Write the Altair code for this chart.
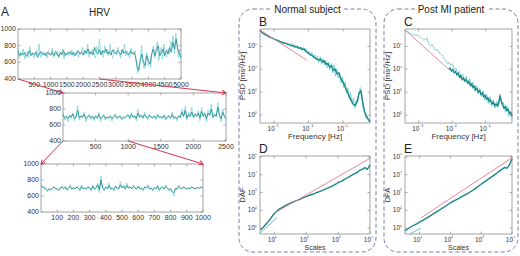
import math
import numpy as np
import pandas as pd
import altair as alt

# ---------------- data ----------------
# A: RR intervals [ms]
rr5000_light = [780, 650, 720, 680, 760, 640, 700, 730, 660, 790, 690, 720, 650, 710, 740, 680, 820, 660, 700, 730, 680, 720, 650, 740, 700, 680,
                770, 660, 710, 690, 740, 650, 720, 700, 760, 640, 710, 690, 730, 680, 700, 750, 670, 720, 690, 740, 660, 720, 700, 780,
                680, 740, 700, 820, 660, 730, 690, 760, 700, 650, 790, 720, 880, 690, 740, 660, 800, 710, 750, 680, 820, 700, 650, 760, 720,
                690, 780, 710, 650, 760, 700, 820, 680, 740, 700, 650, 770, 720, 690, 740, 600, 470, 560, 640, 800, 590, 520, 660, 720, 560,
                600, 540, 720, 800, 650, 760, 850, 620, 700, 780, 640, 820, 700, 660, 760, 700, 850, 780, 920, 700, 950, 820, 660, 760, 640]
rr5000_dark = [730, 680, 710, 690, 720, 670, 700, 740, 680, 710, 690, 720, 660, 700, 730, 690, 710, 680, 720, 700,
               690, 720, 680, 730, 700, 670, 720, 690, 740, 680, 710, 700, 730, 690, 720, 680, 710, 740, 700, 720,
               690, 740, 710, 760, 700, 730, 690, 780, 720, 700, 750, 690, 740, 720, 760, 700, 730, 690, 750, 720,
               700, 740, 720, 690, 750, 710, 730, 700, 690, 740, 700, 720, 680, 560, 500, 620, 700, 600, 560, 680,
               620, 580, 700, 760, 680, 740, 800, 680, 720, 760, 680, 740, 700, 780, 720, 840, 760, 880, 760, 700, 660]
rr2500_light = [760, 660, 700, 640, 720, 680, 750, 650, 700, 840, 660, 720, 690, 760, 640, 700, 730, 670, 710, 650,
                720, 680, 760, 640, 700, 730, 660, 700, 680, 720, 650, 700, 740, 670, 690, 720, 660, 700, 680, 710,
                740, 670, 760, 690, 720, 650, 800, 690, 730, 680, 760, 700, 660, 740, 700, 680, 720, 660, 740, 690,
                710, 680, 730, 660, 700, 720, 680, 760, 670, 700, 650, 720, 690, 800, 700, 840, 660, 760, 700, 820,
                680, 750, 700, 780, 650, 820, 700, 760, 640, 790, 720, 860, 680, 740, 700, 880, 720, 640, 800, 700, 650]
rr2500_dark = [730, 690, 710, 680, 720, 700, 740, 680, 700, 780, 690, 710, 700, 730, 680, 700, 720, 690, 710, 680,
               710, 690, 730, 680, 700, 720, 680, 700, 690, 710, 680, 700, 720, 690, 700, 710, 680, 700, 690, 710,
               720, 690, 730, 700, 710, 680, 750, 700, 720, 690, 730, 700, 690, 720, 700, 690, 710, 690, 720, 700,
               700, 690, 720, 680, 700, 710, 690, 730, 690, 700, 680, 710, 700, 760, 710, 780, 690, 730, 710, 760,
               700, 730, 710, 750, 690, 770, 710, 740, 680, 750, 720, 800, 700, 730, 710, 820, 720, 680, 760, 710, 690]
rr1000_light = [760, 700, 720, 680, 650, 690, 670, 700, 720, 690,
                680, 660, 700, 730, 690, 720, 670, 700, 740, 680,
                710, 690, 720, 700, 660, 740, 690, 700, 680, 720,
                700, 660, 740, 680, 700, 760, 640, 850, 700, 660,
                720, 690, 760, 680, 700, 660, 730, 700, 690, 780,
                700, 740, 680, 760, 700, 720, 690, 740, 700, 680,
                730, 690, 700, 660, 720, 700, 740, 680, 700, 660,
                710, 690, 740, 660, 700, 720, 680, 740, 700, 660,
                690, 640, 600, 700, 680, 740, 700, 690, 720, 700,
                680, 700, 690, 720, 700, 680, 700, 710, 690, 720, 700]
rr1000_dark = [730, 710, 700, 690, 670, 690, 680, 700, 710, 690,
               690, 680, 700, 710, 690, 710, 680, 700, 720, 690,
               700, 690, 710, 700, 680, 720, 690, 700, 690, 710,
               700, 680, 720, 690, 700, 740, 680, 800, 700, 680,
               710, 690, 730, 690, 700, 680, 720, 700, 690, 740,
               700, 720, 690, 730, 700, 710, 690, 720, 700, 690,
               720, 690, 700, 680, 710, 700, 720, 690, 700, 680,
               700, 690, 720, 680, 700, 710, 690, 720, 700, 680,
               690, 660, 640, 690, 690, 720, 700, 690, 710, 700,
               690, 700, 690, 710, 700, 690, 700, 705, 695, 710, 700]

# B / C: log10 PSD over log10 frequency
psd_normal_dark = [5.70, 5.62, 5.56, 5.50, 5.47, 5.42, 5.38, 5.35, 5.31, 5.28, 5.25, 5.21, 5.18, 5.15, 5.13, 5.10,
                   5.07, 5.04, 5.03, 4.97, 4.99, 4.92, 4.94, 4.86, 4.89, 4.78, 4.72, 4.66, 4.62, 4.57, 4.50, 4.46,
                   4.40, 4.44, 4.32, 4.36, 4.22, 4.26, 4.10, 4.15, 3.95, 4.00, 3.80, 3.84, 3.60, 3.48, 3.30, 3.12,
                   2.95, 2.75, 2.60, 2.45, 2.42, 2.60, 2.95, 3.05, 2.55, 2.15, 1.95, 1.82, 1.70]
psd_normal_dark_f = (-3.4, -0.22)
psd_normal_light = [5.16, 5.14, 5.13, 5.10, 5.12, 5.08, 5.15, 5.02, 5.06, 4.98, 5.02, 4.92, 4.98, 4.88, 4.95, 4.84,
                    4.90, 4.70, 4.80, 4.60, 4.74, 4.50, 4.66, 4.40, 4.58, 4.30, 4.55, 4.22, 4.48, 4.20, 4.40, 4.05,
                    4.30, 3.98, 4.25, 3.85, 4.20, 3.70, 4.02, 3.62, 3.85, 3.40, 3.65, 3.20, 3.45, 2.95, 3.20, 2.70,
                    2.95, 2.50, 2.75, 2.30, 2.65, 2.55, 3.00, 3.20, 2.90, 2.30, 2.15, 1.85, 1.80, 1.75, 1.68]
psd_normal_light_f = (-2.7, -0.22)
psd_normal_fit_f = [-3.4, -2.05]
psd_normal_fit = [5.72, 4.40]

psd_mi_light = [5.74, 5.68, 5.62, 5.58, 5.54, 5.52, 5.50, 5.48, 5.46, 5.40, 5.34, 5.28, 5.30, 5.38, 5.10, 5.02,
                5.08, 4.95, 4.84, 4.88, 4.72, 4.68, 4.62, 4.48, 4.40, 4.22, 4.30, 4.16, 4.25, 3.95, 4.05, 3.78,
                3.92, 3.62, 3.80, 3.48, 3.70, 3.35, 3.60, 3.22, 3.45, 3.05, 3.30, 2.92, 3.18, 2.80, 3.05, 2.65,
                2.92, 2.50, 2.80, 2.38, 2.68, 2.30, 2.60, 2.35, 2.90, 2.45, 2.55, 2.15, 2.40, 1.95, 2.15, 1.80]
psd_mi_light_f = (-3.4, -0.22)
psd_mi_dark = [4.00, 4.05, 3.92, 3.98, 3.85, 3.90, 3.76, 3.82, 3.66, 3.72, 3.55, 3.62, 3.48, 3.55, 3.40, 3.46,
               3.30, 3.36, 3.20, 3.26, 3.10, 3.16, 3.00, 3.06, 2.90, 2.96, 2.80, 2.86, 2.70, 2.76, 2.60, 2.66,
               2.50, 2.56, 2.42, 2.48, 2.40, 2.52, 2.80, 2.62, 2.45, 2.30, 2.36, 2.20, 2.26, 2.08, 2.12, 1.95]
psd_mi_dark_f = (-2.1, -0.22)
psd_mi_fit_f = [-3.4, -2.1]
psd_mi_fit = [5.72, 4.00]

# D / E: log10 DFA over log10 scale
dfa_normal = [0.90, 1.05, 1.22, 1.38, 1.58, 1.78, 1.92, 2.05, 2.14, 2.22, 2.30, 2.37, 2.44, 2.50, 2.56, 2.62,
              2.68, 2.74, 2.80, 2.86, 2.90, 2.96, 3.02, 3.08, 3.13, 3.20, 3.26, 3.33, 3.40, 3.48, 3.58, 3.62,
              3.72, 3.80, 3.88, 3.98, 4.05, 4.12, 4.25, 4.30, 4.40, 4.30, 4.55]
dfa_normal_s = (0.58, 4.0)
dfa_normal_fit_s = [1.05, 4.0]
dfa_normal_fit = [1.88, 4.92]
dfa_normal_short_s = [0.56, 1.1]
dfa_normal_short = [0.72, 1.6]

dfa_mi = [0.86, 0.95, 1.05, 1.12, 1.20, 1.27, 1.36, 1.44, 1.52, 1.60, 1.70, 1.79, 1.88, 1.97, 2.06, 2.15,
          2.24, 2.34, 2.43, 2.52, 2.58, 2.66, 2.74, 2.82, 2.90, 2.98, 3.07, 3.16, 3.26, 3.38, 3.48, 3.58,
          3.68, 3.78, 3.88, 3.98, 4.08, 4.20, 4.30, 4.40, 4.36, 4.55, 4.90]
dfa_mi_s = (0.53, 4.0)
dfa_mi_fit_s = [1.05, 4.0]
dfa_mi_fit = [1.58, 4.95]
dfa_mi_short_s = [0.68, 1.05]
dfa_mi_short = [0.67, 1.0]

# tick values
ticks_rr = [400, 600, 800, 1000]
ticks_a1 = [500, 1000, 1500, 2000, 2500, 3000, 3500, 4000, 4500, 5000]
ticks_a2 = [500, 1000, 1500, 2000, 2500]
ticks_a3 = [100, 200, 300, 400, 500, 600, 700, 800, 900, 1000]
ticks_freq = [-3, -2, -1]          # exponents of 10
ticks_psd = [2, 3, 4, 5]
ticks_scale = [1, 2, 3, 4]
ticks_dfa = [1, 2, 3, 4, 5]

# ---------------- styling / layout ----------------
W, H = 520, 256
FONT = "Liberation Sans"
DARK = "#17878b"
LIGHT = "#72cfd2"
FIT = "#e57c8c"
ARROW = "#d8344f"
BOX = "#6e6caa"
FRAME = "#8c8c8c"
TXT = "#333333"
LAB = 7
TIT = 8

G = {  # left, right, top, bottom of each plot area
    "A1": (18, 181, 29, 79), "A2": (63, 226, 93, 141), "A3": (41, 203, 164, 212),
    "B": (260, 370, 29, 123), "D": (260, 370, 156, 234),
    "C": (405, 512, 29, 123), "E": (405, 512, 156, 234),
}

SUP = {"-": "⁻", "0": "⁰", "1": "¹", "2": "²", "3": "³", "4": "⁴", "5": "⁵", "6": "⁶", "7": "⁷", "8": "⁸", "9": "⁹"}


def sup(n):
    return "".join(SUP[c] for c in str(n))


def one():
    return pd.DataFrame({"a": [0]})


def lin_df(vals, x0, x1):
    return pd.DataFrame({"x": np.linspace(x0, x1, len(vals)), "y": vals})


def log_df(lvals, lx):
    lx = np.linspace(lx[0], lx[1], len(lvals)) if len(lx) == 2 and len(lvals) != 2 else np.array(lx)
    return pd.DataFrame({"x": 10 ** lx, "y": 10 ** np.array(lvals)})


def scales(name, xdom, ydom, log=False):
    l, r, t, b = G[name]
    if log:
        sx = alt.Scale(type="log", domain=xdom, range=[l, r], nice=False)
        sy = alt.Scale(type="log", domain=ydom, range=[b, t], nice=False)
    else:
        sx = alt.Scale(type="linear", domain=xdom, range=[l, r], nice=False, zero=False)
        sy = alt.Scale(type="linear", domain=ydom, range=[b, t], nice=False, zero=False)
    return sx, sy


def X(sx, f="x"):
    return alt.X(f"{f}:Q", scale=sx, axis=None)


def Y(sy, f="y"):
    return alt.Y(f"{f}:Q", scale=sy, axis=None)


def tick_layers(name, sx, sy, xvals, yvals, log=False, ts=2.5):
    """tick marks (inside, all four sides) and tick labels, positioned by the panel's scales"""
    l, r, t, b = G[name]
    if log:
        xdf = pd.DataFrame({"v": [10.0 ** e for e in xvals], "base": ["10"] * len(xvals),
                            "exp": [sup(e) for e in xvals]})
        ydf = pd.DataFrame({"v": [10.0 ** e for e in yvals], "base": ["10"] * len(yvals),
                            "exp": [sup(e) for e in yvals]})
    else:
        xdf = pd.DataFrame({"v": xvals, "lab": [str(v) for v in xvals]})
        ydf = pd.DataFrame({"v": yvals, "lab": [str(v) for v in yvals]})
    out = []
    rule = dict(color=FRAME, strokeWidth=0.7)
    out.append(alt.Chart(xdf).mark_rule(**rule).encode(x=X(sx, "v"), y=alt.value(b), y2=alt.value(b - ts)))
    out.append(alt.Chart(xdf).mark_rule(**rule).encode(x=X(sx, "v"), y=alt.value(t), y2=alt.value(t + ts)))
    out.append(alt.Chart(ydf).mark_rule(**rule).encode(y=Y(sy, "v"), x=alt.value(l), x2=alt.value(l + ts)))
    out.append(alt.Chart(ydf).mark_rule(**rule).encode(y=Y(sy, "v"), x=alt.value(r), x2=alt.value(r - ts)))
    txt = dict(font=FONT, color=TXT)
    if log:
        out.append(alt.Chart(xdf).mark_text(fontSize=6.5, align="right", baseline="top", dx=1, **txt).encode(
            x=X(sx, "v"), y=alt.value(b + 2.5), text="base:N"))
        out.append(alt.Chart(xdf).mark_text(fontSize=5, align="left", baseline="top", dx=1, **txt).encode(
            x=X(sx, "v"), y=alt.value(b + 0.8), text="exp:N"))
        out.append(alt.Chart(ydf).mark_text(fontSize=6.5, align="right", baseline="middle", **txt).encode(
            x=alt.value(l - 5), y=Y(sy, "v"), text="base:N"))
        out.append(alt.Chart(ydf).mark_text(fontSize=5, align="left", baseline="middle", dy=-2.5, **txt).encode(
            x=alt.value(l - 5), y=Y(sy, "v"), text="exp:N"))
    else:
        out.append(alt.Chart(xdf).mark_text(fontSize=LAB, align="center", baseline="top", **txt).encode(
            x=X(sx, "v"), y=alt.value(b + 2), text="lab:N"))
        out.append(alt.Chart(ydf).mark_text(fontSize=LAB, align="right", baseline="middle", **txt).encode(
            x=alt.value(l - 2), y=Y(sy, "v"), text="lab:N"))
    return out


def panel(series, sx, sy, extra=()):
    layers = []
    for df, color, w in series:
        layers.append(alt.Chart(df).mark_line(color=color, strokeWidth=w).encode(x=X(sx), y=Y(sy)))
    return alt.layer(*layers, *extra)


def frame(name):
    l, r, t, b = G[name]
    return alt.Chart(one()).mark_rect(fillOpacity=0, stroke=FRAME, strokeWidth=0.8).encode(
        x=alt.value(l), x2=alt.value(r), y=alt.value(t), y2=alt.value(b))


def text(s, x, y, size, align="center", angle=0, color="#222222"):
    return alt.Chart(one()).mark_text(text=s, fontSize=size, align=align, baseline="middle",
                                      color=color, font=FONT, angle=angle).encode(
        x=alt.value(x), y=alt.value(y))


ARROW_PATH = "M-1,-0.6L0,0L-1,0.6"


def arrow_rule(df, sx, sy, x2, y2):
    return alt.Chart(df).mark_rule(color=ARROW, strokeWidth=1).encode(
        x=X(sx, "b"), y=Y(sy, "r"), x2=alt.value(x2), y2=alt.value(y2))


def arrow_head(x0, y0, x1, y1):
    ang = math.degrees(math.atan2(y1 - y0, x1 - x0)) % 360
    return alt.Chart(one()).mark_point(shape=ARROW_PATH, angle=ang, size=60, filled=False,
                                       stroke=ARROW, strokeWidth=1, opacity=1).encode(
        x=alt.value(x1), y=alt.value(y1))


layers = []
for n in ["A1", "A2", "A3", "B", "C", "D", "E"]:
    layers.append(frame(n))

# ---- A panels ----
sxA1, syA1 = scales("A1", [0, 5000], [400, 1000])
sxA2, syA2 = scales("A2", [0, 2500], [400, 1000])
sxA3, syA3 = scales("A3", [0, 1000], [400, 1000])

start1 = pd.DataFrame({"b": [0], "r": [400]})
start2 = pd.DataFrame({"b": [2500], "r": [400]})
start3 = pd.DataFrame({"b": [0], "r": [400]})
start4 = pd.DataFrame({"b": [1000], "r": [400]})

layers.append(panel([(lin_df(rr5000_light, 0, 5000), LIGHT, 0.7), (lin_df(rr5000_dark, 0, 5000), DARK, 0.8)],
                    sxA1, syA1,
                    extra=tick_layers("A1", sxA1, syA1, ticks_a1, ticks_rr) +
                    [arrow_rule(start1, sxA1, syA1, G["A2"][0], G["A2"][2]),
                     arrow_rule(start2, sxA1, syA1, G["A2"][1], G["A2"][2])]))
layers.append(panel([(lin_df(rr2500_light, 0, 2500), LIGHT, 0.7), (lin_df(rr2500_dark, 0, 2500), DARK, 0.8)],
                    sxA2, syA2,
                    extra=tick_layers("A2", sxA2, syA2, ticks_a2, ticks_rr) +
                    [arrow_rule(start3, sxA2, syA2, G["A3"][0], G["A3"][2]),
                     arrow_rule(start4, sxA2, syA2, G["A3"][1], G["A3"][2])]))
layers.append(panel([(lin_df(rr1000_light, 0, 1000), LIGHT, 0.7), (lin_df(rr1000_dark, 0, 1000), DARK, 0.8)],
                    sxA3, syA3, extra=tick_layers("A3", sxA3, syA3, ticks_a3, ticks_rr)))

a1l, a1r, a1t, a1b = G["A1"]
a2l, a2r, a2t, a2b = G["A2"]
a3l, a3r, a3t, a3b = G["A3"]
layers += [
    arrow_head(a1l, a1b, a2l, a2t),
    arrow_head(a1l + (a1r - a1l) * 0.5, a1b, a2r, a2t),
    arrow_head(a2l, a2b, a3l, a3t),
    arrow_head(a2l + (a2r - a2l) * 0.4, a2b, a3r, a3t),
]

# ---- PSD panels ----
fdom = [4e-4, 0.6]
pdom = [45, 5.75e5]
for name, series_spec in [
    ("B", [(log_df(psd_normal_light, psd_normal_light_f), LIGHT, 0.9),
           (log_df(psd_normal_dark, psd_normal_dark_f), DARK, 1.4),
           (log_df(psd_normal_fit, psd_normal_fit_f), FIT, 0.9)]),
    ("C", [(log_df(psd_mi_light, psd_mi_light_f), LIGHT, 0.9),
           (log_df(psd_mi_dark, psd_mi_dark_f), DARK, 1.4),
           (log_df(psd_mi_fit, psd_mi_fit_f), FIT, 0.9)]),
]:
    sx, sy = scales(name, fdom, pdom, log=True)
    layers.append(panel(series_spec, sx, sy, extra=tick_layers(name, sx, sy, ticks_freq, ticks_psd, log=True)))
    l, r, t, b = G[name]
    layers.append(text("Frequency [Hz]", (l + r) / 2, b + 14, TIT, color=TXT))
    layers.append(text("PSD [ms²/Hz]", l - 17, (t + b) / 2, TIT, angle=270, color=TXT))

# ---- DFA panels ----
for name, xdom, title, vals, s, fit_s, fit, sh_s, sh in [
    ("D", [10 ** 0.56, 1e4], "DAF", dfa_normal, dfa_normal_s, dfa_normal_fit_s, dfa_normal_fit,
     dfa_normal_short_s, dfa_normal_short),
    ("E", [10 ** 0.53, 1e4], "DFA", dfa_mi, dfa_mi_s, dfa_mi_fit_s, dfa_mi_fit, dfa_mi_short_s, dfa_mi_short),
]:
    sx, sy = scales(name, xdom, [10 ** 0.67, 10 ** 5.05], log=True)
    layers.append(panel([(log_df(vals, s), DARK, 1.4),
                         (log_df(fit, fit_s), FIT, 0.9),
                         (log_df(sh, sh_s), "#4fb3b5", 0.8)], sx, sy,
                        extra=tick_layers(name, sx, sy, ticks_scale, ticks_dfa, log=True)))
    l, r, t, b = G[name]
    layers.append(text("Scales", (l + r) / 2, b + 13.5, 7, color=TXT))
    layers.append(text(title, l - 17, (t + b) / 2, 7.5, angle=270, color=TXT))

# ---- dashed group boxes and headings ----
for (l, r), label in [((239, 376), "Normal subject"), ((384, 518), "Post MI patient")]:
    layers.append(alt.Chart(one()).mark_rect(fillOpacity=0, stroke=BOX, strokeWidth=0.9, strokeDash=[4, 2.5],
                                             cornerRadius=14).encode(
        x=alt.value(l), x2=alt.value(r), y=alt.value(9), y2=alt.value(252)))
    cx = (l + r) / 2
    layers.append(alt.Chart(one()).mark_rect(fill="white").encode(
        x=alt.value(cx - 36), x2=alt.value(cx + 36), y=alt.value(3), y2=alt.value(16)))
    layers.append(text(label, cx, 9.5, 10))

layers += [
    text("A", 1, 12, 12, align="left"),
    text("HRV", (G["A1"][0] + G["A1"][1]) / 2, 13, 10),
    text("B", 259, 22, 12, align="left"),
    text("C", 404, 22, 12, align="left"),
    text("D", 259, 149, 12, align="left"),
    text("E", 404, 149, 12, align="left"),
]

chart = alt.layer(*layers).resolve_scale(x="independent", y="independent").properties(
    width=W, height=H, autosize=alt.AutoSizeParams(type="none"), padding=0, background="white"
).configure_view(strokeWidth=0)

chart.save("out.html", embed_options={"renderer": "svg", "actions": False})
